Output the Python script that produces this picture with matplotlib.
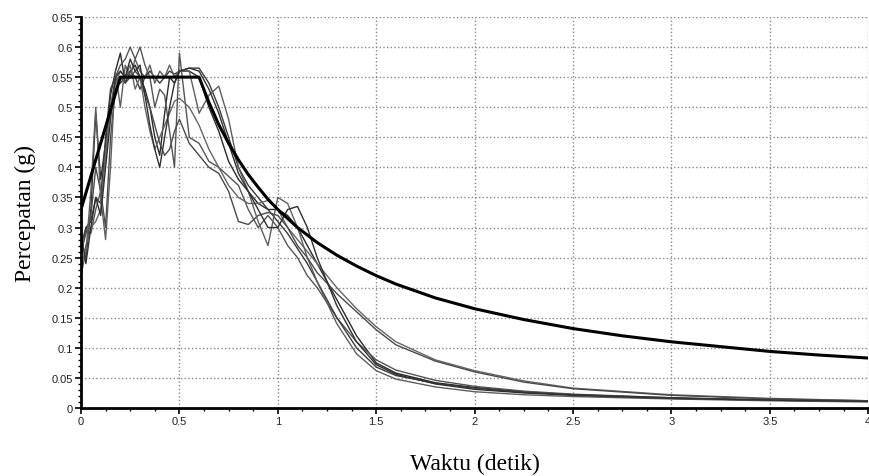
import matplotlib.pyplot as plt
from matplotlib.ticker import MultipleLocator

# periode (detik) untuk spektrum hasil pencocokan
periode = [0.0, 0.025, 0.05, 0.075, 0.1, 0.125, 0.15, 0.175, 0.2, 0.225, 0.25, 0.275,
           0.3, 0.325, 0.35, 0.375, 0.4, 0.425, 0.45, 0.475, 0.5, 0.55, 0.6, 0.65,
           0.7, 0.75, 0.8, 0.85, 0.9, 0.95, 1.0, 1.05, 1.1, 1.15, 1.2, 1.3, 1.4,
           1.5, 1.6, 1.8, 2.0, 2.25, 2.5, 3.0, 3.5, 4.0]

gm1 = [0.28, 0.25, 0.33, 0.49, 0.38, 0.44, 0.52, 0.56, 0.59, 0.54, 0.56, 0.57, 0.55, 0.53,
       0.50, 0.45, 0.42, 0.49, 0.55, 0.54, 0.56, 0.56, 0.55, 0.50, 0.46, 0.41, 0.38, 0.36,
       0.34, 0.33, 0.33, 0.32, 0.30, 0.27, 0.24, 0.18, 0.12, 0.075, 0.058, 0.042, 0.034,
       0.027, 0.022, 0.016, 0.013, 0.011]
gm2 = [0.25, 0.30, 0.29, 0.33, 0.36, 0.42, 0.50, 0.55, 0.57, 0.58, 0.60, 0.58, 0.60, 0.57,
       0.55, 0.50, 0.53, 0.52, 0.46, 0.40, 0.59, 0.45, 0.44, 0.41, 0.40, 0.385, 0.37, 0.33,
       0.30, 0.32, 0.30, 0.27, 0.25, 0.22, 0.20, 0.15, 0.11, 0.08, 0.063, 0.046, 0.036,
       0.028, 0.023, 0.017, 0.013, 0.011]
gm3 = [0.27, 0.30, 0.31, 0.35, 0.34, 0.45, 0.53, 0.55, 0.54, 0.55, 0.56, 0.55, 0.53, 0.55,
       0.56, 0.55, 0.54, 0.55, 0.56, 0.555, 0.56, 0.565, 0.565, 0.54, 0.50, 0.45, 0.40, 0.37,
       0.35, 0.33, 0.31, 0.29, 0.265, 0.24, 0.21, 0.15, 0.10, 0.068, 0.054, 0.041, 0.033,
       0.026, 0.022, 0.017, 0.013, 0.011]
gm4 = [0.23, 0.27, 0.30, 0.31, 0.33, 0.42, 0.50, 0.54, 0.56, 0.55, 0.57, 0.53, 0.55, 0.50,
       0.46, 0.43, 0.45, 0.47, 0.49, 0.51, 0.515, 0.50, 0.47, 0.43, 0.40, 0.37, 0.35, 0.34,
       0.34, 0.345, 0.33, 0.30, 0.28, 0.26, 0.24, 0.20, 0.165, 0.135, 0.11, 0.08, 0.062,
       0.045, 0.033, 0.022, 0.016, 0.012]
gm5 = [0.26, 0.29, 0.32, 0.40, 0.36, 0.30, 0.45, 0.53, 0.55, 0.54, 0.55, 0.56, 0.55, 0.52,
       0.50, 0.47, 0.44, 0.42, 0.43, 0.46, 0.48, 0.44, 0.42, 0.40, 0.39, 0.36, 0.31, 0.305,
       0.32, 0.325, 0.32, 0.30, 0.27, 0.25, 0.225, 0.19, 0.16, 0.13, 0.105, 0.078, 0.06,
       0.043, 0.032, 0.021, 0.015, 0.012]
gm6 = [0.22, 0.26, 0.36, 0.50, 0.35, 0.28, 0.40, 0.56, 0.50, 0.57, 0.55, 0.58, 0.56, 0.55,
       0.57, 0.54, 0.56, 0.55, 0.57, 0.55, 0.56, 0.56, 0.49, 0.52, 0.535, 0.48, 0.40, 0.36,
       0.31, 0.27, 0.35, 0.34, 0.30, 0.25, 0.21, 0.14, 0.09, 0.062, 0.048, 0.035, 0.027,
       0.022, 0.019, 0.015, 0.012, 0.010]
gm7 = [0.29, 0.24, 0.30, 0.35, 0.32, 0.40, 0.48, 0.55, 0.56, 0.55, 0.58, 0.56, 0.57, 0.52,
       0.47, 0.43, 0.40, 0.45, 0.50, 0.54, 0.56, 0.565, 0.56, 0.53, 0.49, 0.44, 0.39, 0.36,
       0.33, 0.30, 0.30, 0.33, 0.335, 0.30, 0.25, 0.17, 0.11, 0.072, 0.056, 0.04, 0.031,
       0.025, 0.021, 0.016, 0.013, 0.011]

# spektrum desain
periode_desain = [0.0, 0.2, 0.6, 0.65, 0.7, 0.75, 0.8, 0.85, 0.9, 0.95, 1.0, 1.1, 1.2,
                  1.3, 1.4, 1.5, 1.6, 1.8, 2.0, 2.25, 2.5, 2.75, 3.0, 3.25, 3.5, 3.75, 4.0]
sa_desain = [0.33, 0.55, 0.55, 0.508, 0.471, 0.44, 0.4125, 0.388, 0.367, 0.347, 0.33, 0.30,
             0.275, 0.254, 0.236, 0.22, 0.206, 0.183, 0.165, 0.147, 0.132, 0.12, 0.11,
             0.102, 0.094, 0.088, 0.083]

gempa = [gm1, gm2, gm3, gm4, gm5, gm6, gm7]
warna = ['#2a2a2a', '#555555', '#3a3a3a', '#666666', '#4a4a4a', '#5e5e5e', '#303030']

fig = plt.figure(figsize=(8.7, 4.77), dpi=100)
ax = fig.add_axes([0.0931, 0.1426, 0.9049, 0.8197])

for sa, c in zip(gempa, warna):
    ax.plot(periode, sa, color=c, linewidth=1.0)
ax.plot(periode_desain, sa_desain, color='black', linewidth=2.2)

ax.set_xlim(0, 4)
ax.set_ylim(0, 0.65)

xt = [0, 0.5, 1, 1.5, 2, 2.5, 3, 3.5, 4]
yt = [0, 0.05, 0.1, 0.15, 0.2, 0.25, 0.3, 0.35, 0.4, 0.45, 0.5, 0.55, 0.6, 0.65]
ax.set_xticks(xt)
ax.set_xticklabels(['0', '0.5', '1', '1.5', '2', '2.5', '3', '3.5', '4'])
ax.set_yticks(yt)
ax.set_yticklabels(['0', '0.05', '0.1', '0.15', '0.2', '0.25', '0.3', '0.35', '0.4',
                    '0.45', '0.5', '0.55', '0.6', '0.65'])
ax.xaxis.set_minor_locator(MultipleLocator(0.125))
ax.yaxis.set_minor_locator(MultipleLocator(0.01))
ax.tick_params(which='major', direction='out', length=4, width=1.2, labelsize=8,
               labelcolor='#222222', pad=2)
ax.tick_params(which='minor', direction='out', length=2.5, width=1)
for lab in ax.get_xticklabels() + ax.get_yticklabels():
    lab.set_family('Liberation Sans')

for s in ['top', 'right']:
    ax.spines[s].set_visible(False)
for s in ['left', 'bottom']:
    ax.spines[s].set_linewidth(2)

ax.grid(True, which='major', linestyle=':', color='#888888', linewidth=1)

ax.set_xlabel('Waktu (detik)', fontsize=17, family='Liberation Serif')
ax.set_ylabel('Percepatan (g)', fontsize=17, family='Liberation Serif')
ax.xaxis.set_label_coords(0.5, -0.115)
ax.yaxis.set_label_coords(-0.057, 0.5)

plt.savefig('out.png', dpi=100)
